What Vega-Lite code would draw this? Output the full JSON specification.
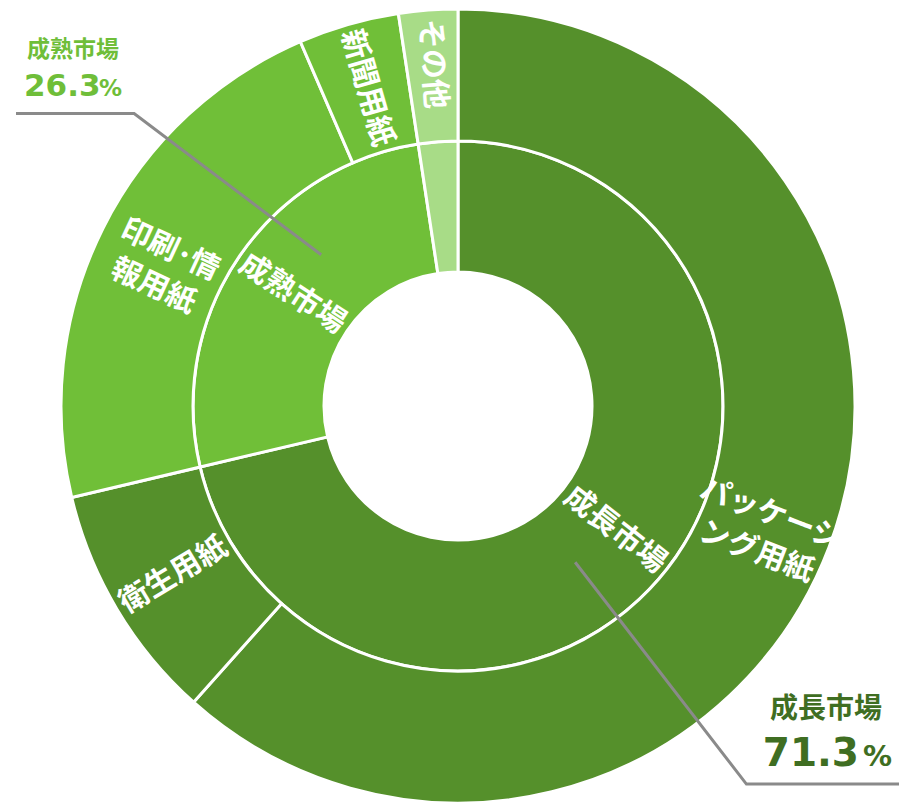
{
  "$schema": "https://vega.github.io/schema/vega-lite/v6.json",
  "width": 905,
  "height": 803,
  "autosize": {"type": "fit", "contains": "padding"},
  "padding": {"left": 9, "top": 9, "right": 0, "bottom": 0},
  "background": "white",
  "view": {"stroke": null},
  "config": {"text": {"font": "Noto Sans CJK JP", "fontWeight": "bold"}},
  "datasets": {
    "inner": [
      {"name": "成長市場", "market": "成長市場", "share": 71.3, "rank": 1, "label": "成長市場"},
      {"name": "成熟市場", "market": "成熟市場", "share": 26.3, "rank": 2, "label": "成熟市場"},
      {"name": "その他", "market": "その他", "share": 2.4, "rank": 3, "label": ""}
    ],
    "outer": [
      {"name": "パッケージング用紙", "market": "成長市場", "share": 61.6, "rank": 1, "label": "パッケージ\nング用紙"},
      {"name": "衛生用紙", "market": "成長市場", "share": 9.7, "rank": 2, "label": "衛生用紙"},
      {"name": "印刷・情報用紙", "market": "成熟市場", "share": 22.2, "rank": 3, "label": "印刷･情\n報用紙"},
      {"name": "新聞用紙", "market": "成熟市場", "share": 4.1, "rank": 4, "label": "新聞用紙"},
      {"name": "その他", "market": "その他", "share": 2.4, "rank": 5, "label": "その他"}
    ],
    "callouts": [
      {"market": "成熟市場", "pct": "26.3", "seq": 0, "x": -449, "y": 294},
      {"market": "成熟市場", "pct": "26.3", "seq": 1, "x": -329, "y": 294},
      {"market": "成熟市場", "pct": "26.3", "seq": 2, "x": -139, "y": 152},
      {"market": "成長市場", "pct": "71.3", "seq": 0, "x": 119, "y": -157},
      {"market": "成長市場", "pct": "71.3", "seq": 1, "x": 293, "y": -380},
      {"market": "成長市場", "pct": "71.3", "seq": 2, "x": 448, "y": -380}
    ]
  },
  "layer": [
    {
      "data": {"name": "inner"},
      "mark": {"type": "arc", "outerRadius": 265, "innerRadius": 134, "stroke": "white", "strokeWidth": 3},
      "encoding": {
        "theta": {"field": "share", "type": "quantitative", "stack": true, "scale": {"domain": [0, 100]}},
        "order": {"field": "rank", "type": "quantitative"},
        "color": {"field": "market", "type": "nominal", "legend": null,
          "scale": {"domain": ["成長市場", "成熟市場", "その他"], "range": ["#55902B", "#70BF38", "#A8DC87"]}}
      }
    },
    {
      "data": {"name": "outer"},
      "mark": {"type": "arc", "outerRadius": 397, "innerRadius": 265, "stroke": "white", "strokeWidth": 3},
      "encoding": {
        "theta": {"field": "share", "type": "quantitative", "stack": true, "scale": {"domain": [0, 100]}},
        "order": {"field": "rank", "type": "quantitative"},
        "color": {"field": "market", "type": "nominal", "legend": null}
      }
    },
    {
      "data": {"name": "inner"},
      "mark": {"type": "text", "fontSize": 30, "color": "white", "align": "center", "baseline": "middle"},
      "encoding": {
        "theta": {"field": "share", "type": "quantitative", "stack": true, "scale": {"domain": [0, 100]}},
        "order": {"field": "rank", "type": "quantitative"},
        "radius": {"value": 200},
        "text": {"field": "label"},
        "angle": {"condition": [
          {"test": "datum.name === '成長市場'", "value": 38},
          {"test": "datum.name === '成熟市場'", "value": 33}
        ], "value": 0}
      }
    },
    {
      "data": {"name": "outer"},
      "mark": {"type": "text", "fontSize": 30, "color": "white", "align": "center", "baseline": "middle", "lineBreak": "\n", "lineHeight": 40,
        "dy": {"expr": "datum.name === 'パッケージング用紙' || datum.name === '印刷・情報用紙' ? -10 : 0"},
        "dx": {"expr": "datum.name === 'その他' ? -12 : (datum.name === '印刷・情報用紙' ? 4 : 0)"}},
      "encoding": {
        "theta": {"field": "share", "type": "quantitative", "stack": true, "scale": {"domain": [0, 100]}},
        "order": {"field": "rank", "type": "quantitative"},
        "radius": {"value": 331},
        "text": {"field": "label"},
        "angle": {"condition": [
          {"test": "datum.name === 'パッケージング用紙'", "value": 21},
          {"test": "datum.name === '衛生用紙'", "value": -31},
          {"test": "datum.name === '印刷・情報用紙'", "value": 25},
          {"test": "datum.name === '新聞用紙'", "value": 74},
          {"test": "datum.name === 'その他'", "value": 86}
        ], "value": 0}
      }
    },
    {
      "data": {"name": "callouts"},
      "mark": {"type": "line", "color": "#8A8A8A", "strokeWidth": 3},
      "encoding": {
        "x": {"field": "x", "type": "quantitative", "axis": null, "scale": {"domain": [-448, 448], "nice": false, "zero": false}},
        "y": {"field": "y", "type": "quantitative", "axis": null, "scale": {"domain": [-397, 397], "nice": false, "zero": false}},
        "detail": {"field": "market"},
        "order": {"field": "seq", "type": "quantitative"}
      }
    },
    {
      "data": {"name": "callouts"},
      "transform": [{"filter": "datum.market === '成熟市場' && datum.seq === 0"}],
      "layer": [
        {"mark": {"type": "text", "align": "left", "baseline": "alphabetic", "dx": 11, "dy": -56, "fontSize": 23, "color": "#6FBE39"},
         "encoding": {"text": {"field": "market"}}},
        {"mark": {"type": "text", "align": "left", "baseline": "alphabetic", "dx": 8, "dy": -17, "fontSize": 31, "font": "DejaVu Sans", "color": "#6FBE39"},
         "encoding": {"text": {"field": "pct"}}},
        {"mark": {"type": "text", "align": "left", "baseline": "alphabetic", "dx": 83, "dy": -17, "fontSize": 23, "font": "DejaVu Sans", "color": "#6FBE39"},
         "encoding": {"text": {"value": "%"}}}
      ],
      "encoding": {
        "x": {"field": "x", "type": "quantitative"},
        "y": {"field": "y", "type": "quantitative"}
      }
    },
    {
      "data": {"name": "callouts"},
      "transform": [{"filter": "datum.market === '成長市場' && datum.seq === 2"}],
      "layer": [
        {"mark": {"type": "text", "align": "right", "baseline": "alphabetic", "dx": -17, "dy": -66, "fontSize": 28, "color": "#3F6E22"},
         "encoding": {"text": {"field": "market"}}},
        {"mark": {"type": "text", "align": "right", "baseline": "alphabetic", "dx": -40, "dy": -18, "fontSize": 39, "font": "DejaVu Sans", "color": "#3F6E22"},
         "encoding": {"text": {"field": "pct"}}},
        {"mark": {"type": "text", "align": "right", "baseline": "alphabetic", "dx": -7, "dy": -18, "fontSize": 29, "font": "DejaVu Sans", "color": "#3F6E22"},
         "encoding": {"text": {"value": "%"}}}
      ],
      "encoding": {
        "x": {"field": "x", "type": "quantitative"},
        "y": {"field": "y", "type": "quantitative"}
      }
    }
  ]
}
